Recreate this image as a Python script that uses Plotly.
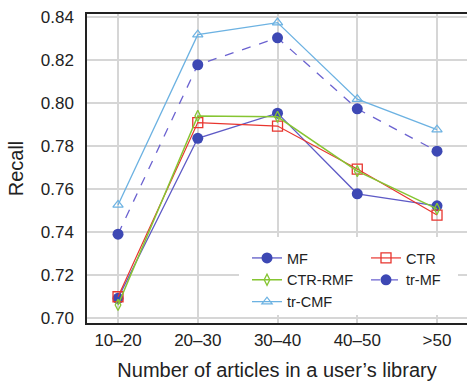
import plotly.graph_objects as go

categories = ["10–20", "20–30", "30–40", "40–50", ">50"]
mf = [0.7094, 0.7838, 0.7955, 0.7580, 0.7524]
ctr = [0.7101, 0.7911, 0.7895, 0.7695, 0.7481]
ctr_rmf = [0.7063, 0.7942, 0.7938, 0.7685, 0.7510]
tr_mf = [0.7392, 0.8180, 0.8305, 0.7975, 0.7778]
tr_cmf = [0.7528, 0.8320, 0.8376, 0.8020, 0.7878]

xs = list(range(len(categories)))
FONT = "Liberation Sans, Arial, Helvetica, sans-serif"

fig = go.Figure()
fig.add_trace(go.Scatter(x=xs, y=tr_cmf, name="tr-CMF", mode="lines+markers",
                         line=dict(color="#6cb2e2", width=1.3),
                         marker=dict(symbol="triangle-up-open", size=9, color="#6cb2e2", line=dict(width=1.2)),
                         legend="legend", legendrank=3))
fig.add_trace(go.Scatter(x=xs, y=tr_mf, name="tr-MF", mode="lines+markers",
                         line=dict(color="#6b62d0", width=1.3, dash="dash"),
                         marker=dict(symbol="circle", size=11, color="#3d48b4"),
                         legend="legend2", legendrank=2))
fig.add_trace(go.Scatter(x=xs, y=mf, name="MF", mode="lines+markers",
                         line=dict(color="#5e5ac6", width=1.3),
                         marker=dict(symbol="circle", size=11, color="#3d48b4"),
                         legend="legend", legendrank=1))
fig.add_trace(go.Scatter(x=xs, y=ctr, name="CTR", mode="lines+markers",
                         line=dict(color="#e8352e", width=1.2),
                         marker=dict(symbol="square-open", size=10, color="#e8352e", line=dict(width=1.3)),
                         legend="legend2", legendrank=1))
fig.add_trace(go.Scatter(x=xs, y=ctr_rmf, name="CTR-RMF", mode="lines+markers",
                         line=dict(color="#86c532", width=1.5),
                         marker=dict(symbol="diamond-tall-open", size=8, color="#86c532", line=dict(width=1.3)),
                         legend="legend", legendrank=2))

L, T, B = 87, 14, 60
W, H = 467, 383
plot_w = W - L
plot_h = H - T - B

def px_to_paper_x(px):
    return (px - L) / plot_w

def px_to_paper_y(py):
    return (H - B - py) / plot_h

fig.add_shape(type="rect", xref="paper", yref="paper",
              x0=px_to_paper_x(239), x1=px_to_paper_x(458),
              y0=px_to_paper_y(315), y1=px_to_paper_y(237),
              fillcolor="white", line=dict(width=0), layer="above")

legend_common = dict(font=dict(family=FONT, size=14.5, color="#222"),
                     bgcolor="rgba(0,0,0,0)", borderwidth=0,
                     xanchor="left", yanchor="top", tracegroupgap=0,
                     itemwidth=30)

fig.update_layout(
    template="none",
    width=W, height=H,
    margin=dict(l=L, r=0, t=T, b=B, autoexpand=False),
    plot_bgcolor="white", paper_bgcolor="white",
    font=dict(family=FONT, size=17, color="#222"),
    showlegend=True,
    legend=dict(x=px_to_paper_x(247), y=px_to_paper_y(242), **legend_common),
    legend2=dict(x=px_to_paper_x(366), y=px_to_paper_y(242), **legend_common),
    xaxis=dict(range=[-0.389, 4.376], tickmode="array", tickvals=xs, ticktext=categories,
               showgrid=True, gridcolor="#d6d6d6", gridwidth=1.5,
               showline=True, linecolor="#222", linewidth=1.5, mirror=True,
               ticks="", ticklabelstandoff=1, zeroline=False, automargin=False,
               title=dict(text="Number of articles in a user’s library", standoff=14),
               tickfont=dict(size=17)),
    yaxis=dict(range=[0.6979, 0.8416], tickmode="array",
               tickvals=[0.70, 0.72, 0.74, 0.76, 0.78, 0.80, 0.82, 0.84],
               ticktext=["0.70", "0.72", "0.74", "0.76", "0.78", "0.80", "0.82", "0.84"],
               showgrid=True, gridcolor="#d6d6d6", gridwidth=1.5,
               showline=True, linecolor="#222", linewidth=1.5, mirror=False,
               ticks="", ticklabelstandoff=8, zeroline=False, automargin=False,
               title=dict(text="Recall", standoff=12),
               tickfont=dict(size=17)),
)

fig.write_html("out.html",
               config={"displayModeBar": False},
               post_script="document.body.style.margin='0px';document.body.style.overflow='hidden';")
